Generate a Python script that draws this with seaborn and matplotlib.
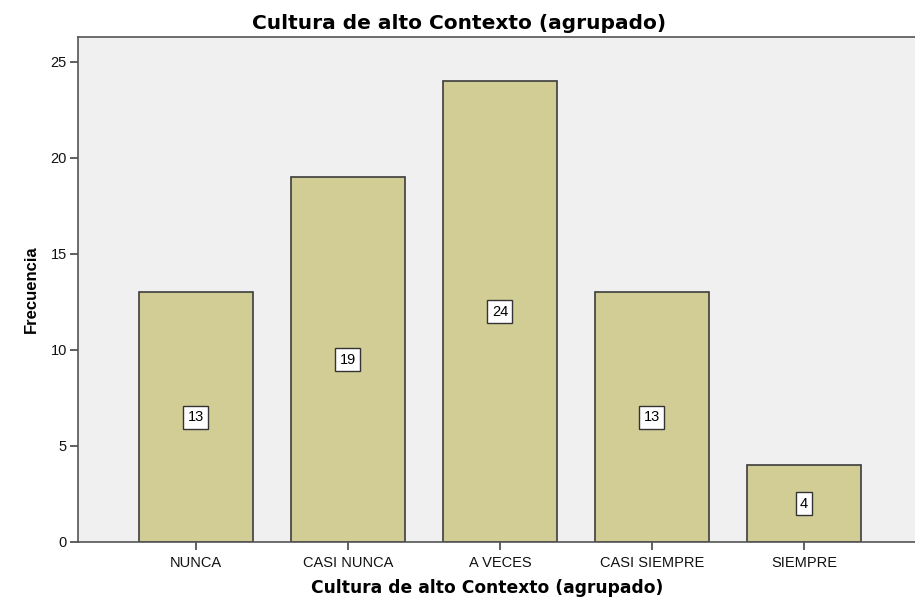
import pandas as pd
import matplotlib
matplotlib.use("Agg")
import matplotlib.pyplot as plt
import seaborn as sns

# Datos
categorias = ["NUNCA", "CASI NUNCA", "A VECES", "CASI SIEMPRE", "SIEMPRE"]
frecuencias = [13, 19, 24, 13, 4]
titulo = "Cultura de alto Contexto (agrupado)"

df = pd.DataFrame({"categoria": categorias, "frecuencia": frecuencias})

sns.set_style("white")
plt.rcParams["font.family"] = ["Liberation Sans", "DejaVu Sans"]

fig = plt.figure(figsize=(9.15, 6.01), dpi=100)
ax = fig.add_axes([0.0852, 0.0982, 0.9148, 0.8402])
ax.set_facecolor("#f0f0f0")

sns.barplot(data=df, x="categoria", y="frecuencia", order=categorias,
            color="#d2cd95", saturation=1, width=0.75,
            edgecolor="#3c3c3c", linewidth=1.2, ax=ax)

# etiquetas dentro de cada barra
for i, v in enumerate(frecuencias):
    ax.text(i, v / 2, str(v), ha="center", va="center", fontsize=10.5,
            color="black",
            bbox=dict(boxstyle="square,pad=0.3", facecolor="white",
                      edgecolor="#333333", linewidth=1))

ax.set_xlim(-0.776, 4.73)
ax.set_ylim(0, 26.3)
ax.set_yticks([0, 5, 10, 15, 20, 25])
ax.tick_params(axis="both", direction="out", length=6, width=1.2,
               bottom=True, left=True,
               color="#444444", labelsize=10.5, labelcolor="#111111", pad=2)
ax.tick_params(axis="x", pad=4)

for s in ["left", "bottom", "top"]:
    ax.spines[s].set_color("#555555")
    ax.spines[s].set_linewidth(1.2)
ax.spines["right"].set_visible(False)

ax.set_title(titulo, fontsize=14.5, fontweight="bold", pad=6, color="black",
             family="DejaVu Sans", x=0.455)
ax.set_xlabel(titulo, fontsize=12.3, fontweight="bold", labelpad=7, color="black",
              family="DejaVu Sans")
ax.xaxis.set_label_coords(0.489, -0.073)
ax.set_ylabel("Frecuencia", fontsize=12, fontweight="bold", labelpad=8, color="black")

fig.savefig("out.png", dpi=100)
